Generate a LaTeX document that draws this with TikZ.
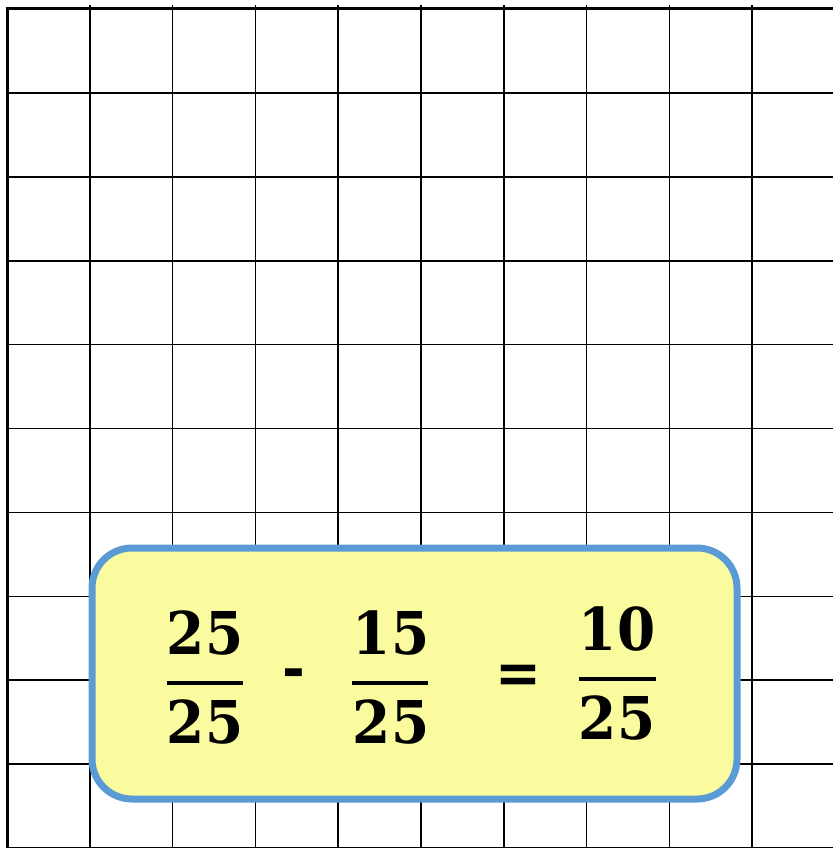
\documentclass[tikz,border=0pt]{standalone}
\usepackage{fontspec}
\newfontfamily\numfont[FakeStretch=0.93]{DejaVu Serif}
\definecolor{boxfill}{HTML}{FAFA9F}
\definecolor{boxline}{HTML}{5B9BD5}
\begin{document}
\begin{tikzpicture}[x=1pt,y=-1pt,
  gridline/.style={line width=1.6pt,black},
  frameline/.style={line width=3pt,black},
  numtxt/.style={font=\numfont\bfseries\fontsize{59}{59}\selectfont,inner sep=0pt,anchor=center},
  fracbar/.style={line width=3.5pt,black},
  sumbox/.style={draw=boxline,fill=boxfill,line width=7pt,rounded corners=40pt}]
\useasboundingbox (0,0) rectangle (833,848);
\fill[white] (0,0) rectangle (833,848);
% grid
\foreach \k in {1,...,9} {
  \draw[gridline] ({7+82.8*\k},5) -- ({7+82.8*\k},848);
}
\foreach \k in {1,...,10} {
  \draw[gridline] (7,{9+83.9*\k}) -- (833,{9+83.9*\k});
}
\draw[frameline] (7,9) -- (833,9);
\draw[frameline] (7,7.5) -- (7,848);
% box
\draw[sumbox] (92,548) rectangle (737,799);
% fraction 1
\node[numtxt] (n1) at (205,633) {25};
\node[numtxt] (d1) at (205,722) {25};
\coordinate (b1l) at (167,683);
\coordinate (b1r) at (243,683);
\draw[fracbar] (b1l) -- (b1r);
% minus
\node[numtxt] (minus) at (294,679) {-};
% fraction 2
\node[numtxt] (n2) at (391,633) {15};
\node[numtxt] (d2) at (391,722) {25};
\coordinate (b2l) at (352,683);
\coordinate (b2r) at (428,683);
\draw[fracbar] (b2l) -- (b2r);
% equals
\node[numtxt] (eq) at (518,679) {=};
% fraction 3
\node[numtxt] (n3) at (617,629) {10};
\node[numtxt] (d3) at (617,718) {25};
\coordinate (b3l) at (579,679);
\coordinate (b3r) at (656,679);
\draw[fracbar] (b3l) -- (b3r);
\end{tikzpicture}
\end{document}
